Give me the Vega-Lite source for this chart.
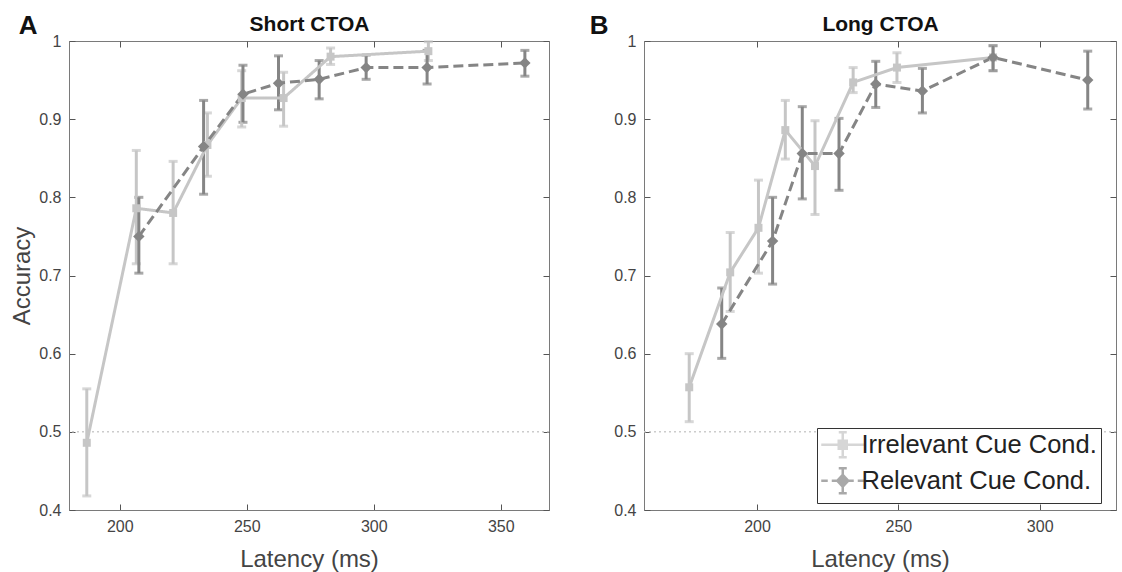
{
  "$schema": "https://vega.github.io/schema/vega-lite/v6.json",
  "padding": {"left": 10, "top": 12, "right": 0, "bottom": 0},
  "config": {
    "font": "Liberation Sans",
    "view": {"stroke": "#7a7a7a", "strokeWidth": 1},
    "axis": {"grid": false, "domainColor": "#7a7a7a", "tickColor": "#555555", "labelColor": "#444444", "titleColor": "#444444", "labelFontSize": 16, "titleFontSize": 24, "titleFontWeight": "normal", "tickSize": -6, "labelPadding": 14}
  },
  "datasets": {
    "short": [
      {"cond": "Irrelevant Cue Cond.", "lat": 187, "acc": 0.486, "lo": 0.418, "hi": 0.555},
      {"cond": "Irrelevant Cue Cond.", "lat": 206.5, "acc": 0.786, "lo": 0.715, "hi": 0.860},
      {"cond": "Irrelevant Cue Cond.", "lat": 221, "acc": 0.780, "lo": 0.715, "hi": 0.846},
      {"cond": "Irrelevant Cue Cond.", "lat": 234.5, "acc": 0.867, "lo": 0.827, "hi": 0.908},
      {"cond": "Irrelevant Cue Cond.", "lat": 248, "acc": 0.927, "lo": 0.890, "hi": 0.962},
      {"cond": "Irrelevant Cue Cond.", "lat": 264.5, "acc": 0.927, "lo": 0.891, "hi": 0.960},
      {"cond": "Irrelevant Cue Cond.", "lat": 283, "acc": 0.980, "lo": 0.970, "hi": 0.991},
      {"cond": "Irrelevant Cue Cond.", "lat": 321.5, "acc": 0.987, "lo": 0.975, "hi": 0.999},
      {"cond": "Relevant Cue Cond.", "lat": 207.5, "acc": 0.750, "lo": 0.703, "hi": 0.800},
      {"cond": "Relevant Cue Cond.", "lat": 233, "acc": 0.865, "lo": 0.804, "hi": 0.924},
      {"cond": "Relevant Cue Cond.", "lat": 248.5, "acc": 0.932, "lo": 0.896, "hi": 0.969},
      {"cond": "Relevant Cue Cond.", "lat": 262.5, "acc": 0.946, "lo": 0.912, "hi": 0.981},
      {"cond": "Relevant Cue Cond.", "lat": 278.5, "acc": 0.951, "lo": 0.926, "hi": 0.975},
      {"cond": "Relevant Cue Cond.", "lat": 297, "acc": 0.966, "lo": 0.951, "hi": 0.982},
      {"cond": "Relevant Cue Cond.", "lat": 321, "acc": 0.966, "lo": 0.945, "hi": 0.988},
      {"cond": "Relevant Cue Cond.", "lat": 359.5, "acc": 0.972, "lo": 0.955, "hi": 0.988}
    ],
    "long": [
      {"cond": "Irrelevant Cue Cond.", "lat": 176, "acc": 0.557, "lo": 0.513, "hi": 0.600},
      {"cond": "Irrelevant Cue Cond.", "lat": 190.5, "acc": 0.704, "lo": 0.654, "hi": 0.755},
      {"cond": "Irrelevant Cue Cond.", "lat": 200.5, "acc": 0.761, "lo": 0.703, "hi": 0.822},
      {"cond": "Irrelevant Cue Cond.", "lat": 210, "acc": 0.886, "lo": 0.849, "hi": 0.924},
      {"cond": "Irrelevant Cue Cond.", "lat": 220.5, "acc": 0.840, "lo": 0.778, "hi": 0.898},
      {"cond": "Irrelevant Cue Cond.", "lat": 234, "acc": 0.947, "lo": 0.934, "hi": 0.966},
      {"cond": "Irrelevant Cue Cond.", "lat": 249.5, "acc": 0.966, "lo": 0.947, "hi": 0.985},
      {"cond": "Irrelevant Cue Cond.", "lat": 283.5, "acc": 0.979, "lo": 0.962, "hi": 0.994},
      {"cond": "Relevant Cue Cond.", "lat": 187.5, "acc": 0.638, "lo": 0.594, "hi": 0.684},
      {"cond": "Relevant Cue Cond.", "lat": 205.5, "acc": 0.744, "lo": 0.689, "hi": 0.800},
      {"cond": "Relevant Cue Cond.", "lat": 216, "acc": 0.856, "lo": 0.798, "hi": 0.916},
      {"cond": "Relevant Cue Cond.", "lat": 229, "acc": 0.856, "lo": 0.809, "hi": 0.901},
      {"cond": "Relevant Cue Cond.", "lat": 242, "acc": 0.945, "lo": 0.915, "hi": 0.974},
      {"cond": "Relevant Cue Cond.", "lat": 258.5, "acc": 0.936, "lo": 0.908, "hi": 0.965},
      {"cond": "Relevant Cue Cond.", "lat": 283.5, "acc": 0.979, "lo": 0.962, "hi": 0.994},
      {"cond": "Relevant Cue Cond.", "lat": 317, "acc": 0.950, "lo": 0.913, "hi": 0.987}
    ]
  },
  "resolve": {"legend": {"color": "independent", "shape": "independent", "stroke": "independent"}, "scale": {"color": "independent", "shape": "independent", "strokeDash": "independent", "size": "independent", "stroke": "independent"}},
  "spacing": 38,
  "hconcat": [
    {
      "width": 480, "height": 469,
      "data": {"name": "short"},
      "title": {"text": "A", "anchor": "start", "frame": "bounds", "fontSize": 26, "fontWeight": "bold", "dx": 8, "dy": 29, "color": "#111111"},
      "resolve": {"axis": {"x": "independent", "y": "independent"}},
      "layer": [
        {"data": {"values": [{}]}, "mark": {"type": "rule", "color": "#cccccc", "strokeDash": [2, 3], "strokeWidth": 1.5}, "encoding": {"y": {"datum": 0.5, "type": "quantitative", "axis": null}}},
        {"mark": {"type": "errorbar", "ticks": true, "size": 9, "thickness": 3},
         "encoding": {
           "x": {"field": "lat", "type": "quantitative", "axis": null},
           "y": {"field": "lo", "type": "quantitative", "axis": null},
           "y2": {"field": "hi"},
           "color": {"field": "cond", "type": "nominal", "legend": null, "scale": {"domain": ["Irrelevant Cue Cond.", "Relevant Cue Cond."], "range": ["#c6c6c6", "#858585"]}}}},
        {"mark": {"type": "line", "strokeWidth": 3},
         "encoding": {
           "x": {"field": "lat", "type": "quantitative", "scale": {"domain": [180, 369], "nice": false, "zero": false}, "axis": {"values": [200, 250, 300, 350], "title": "Latency (ms)", "titlePadding": 13}},
           "y": {"field": "acc", "type": "quantitative", "scale": {"domain": [0.4, 1], "nice": false, "zero": false}, "axis": {"values": [0.4, 0.5, 0.6, 0.7, 0.8, 0.9, 1], "format": ".1~f", "title": "Accuracy", "titlePadding": 4}},
           "color": {"field": "cond", "type": "nominal", "legend": null},
           "strokeDash": {"field": "cond", "type": "nominal", "legend": null, "scale": {"domain": ["Irrelevant Cue Cond.", "Relevant Cue Cond."], "range": [[1, 0], [10, 5]]}}}},
        {"mark": {"type": "point", "filled": true, "opacity": 1},
         "encoding": {
           "x": {"field": "lat", "type": "quantitative", "axis": {"orient": "top", "values": [200, 250, 300, 350], "labels": false, "domain": false, "title": "Short CTOA", "titleFontSize": 21, "titleFontWeight": "bold", "titleColor": "#111111", "titlePadding": 6}},
           "y": {"field": "acc", "type": "quantitative", "axis": {"orient": "right", "values": [0.4, 0.5, 0.6, 0.7, 0.8, 0.9, 1], "labels": false, "domain": false, "title": null}},
           "color": {"field": "cond", "type": "nominal", "legend": null},
           "shape": {"field": "cond", "type": "nominal", "legend": null, "scale": {"domain": ["Irrelevant Cue Cond.", "Relevant Cue Cond."], "range": ["square", "diamond"]}},
           "size": {"field": "cond", "type": "nominal", "legend": null, "scale": {"domain": ["Irrelevant Cue Cond.", "Relevant Cue Cond."], "range": [64, 130]}}}}
      ]
    },
    {
      "width": 472, "height": 469,
      "data": {"name": "long"},
      "title": {"text": "B", "anchor": "start", "frame": "bounds", "fontSize": 26, "fontWeight": "bold", "dx": -24, "dy": 29, "color": "#111111"},
      "resolve": {"axis": {"x": "independent", "y": "independent"}},
      "layer": [
        {"data": {"values": [{}]}, "mark": {"type": "rule", "color": "#cccccc", "strokeDash": [2, 3], "strokeWidth": 1.5}, "encoding": {"y": {"datum": 0.5, "type": "quantitative", "axis": null}}},
        {"mark": {"type": "errorbar", "ticks": true, "size": 9, "thickness": 3},
         "encoding": {
           "x": {"field": "lat", "type": "quantitative", "axis": null},
           "y": {"field": "lo", "type": "quantitative", "axis": null},
           "y2": {"field": "hi"},
           "color": {"field": "cond", "type": "nominal", "scale": {"domain": ["Irrelevant Cue Cond.", "Relevant Cue Cond."], "range": ["#c6c6c6", "#858585"]}}}},
        {"transform": [{"filter": "datum.cond === 'Irrelevant Cue Cond.'"}],
         "mark": {"type": "line", "strokeWidth": 3},
         "encoding": {
           "x": {"field": "lat", "type": "quantitative", "scale": {"domain": [160, 327], "nice": false, "zero": false}, "axis": {"values": [200, 250, 300], "title": "Latency (ms)", "titlePadding": 13}},
           "y": {"field": "acc", "type": "quantitative", "scale": {"domain": [0.4, 1], "nice": false, "zero": false}, "axis": {"values": [0.4, 0.5, 0.6, 0.7, 0.8, 0.9, 1], "format": ".1~f", "title": null}},
           "color": {"field": "cond", "type": "nominal"}}},
        {"transform": [{"filter": "datum.cond === 'Relevant Cue Cond.'"}],
         "mark": {"type": "line", "strokeWidth": 3, "strokeDash": [10, 5]},
         "encoding": {
           "x": {"field": "lat", "type": "quantitative", "axis": null},
           "y": {"field": "acc", "type": "quantitative", "axis": null},
           "color": {"field": "cond", "type": "nominal"}}},
        {"transform": [{"filter": "datum.cond === 'Irrelevant Cue Cond.'"}],
         "mark": {"type": "point", "filled": true, "opacity": 1, "shape": "square", "size": 64},
         "encoding": {
           "x": {"field": "lat", "type": "quantitative", "axis": {"orient": "top", "values": [200, 250, 300], "labels": false, "domain": false, "title": "Long CTOA", "titleFontSize": 21, "titleFontWeight": "bold", "titleColor": "#111111", "titlePadding": 6}},
           "y": {"field": "acc", "type": "quantitative", "axis": {"orient": "right", "values": [0.4, 0.5, 0.6, 0.7, 0.8, 0.9, 1], "labels": false, "domain": false, "title": null}},
           "color": {"field": "cond", "type": "nominal"}}},
        {"transform": [{"filter": "datum.cond === 'Relevant Cue Cond.'"}],
         "mark": {"type": "point", "filled": true, "opacity": 1, "shape": "diamond", "size": 130},
         "encoding": {
           "x": {"field": "lat", "type": "quantitative", "axis": null},
           "y": {"field": "acc", "type": "quantitative", "axis": null},
           "color": {"field": "cond", "type": "nominal"}}},
        {"mark": {"type": "point", "filled": true, "opacity": 0},
         "encoding": {
           "x": {"field": "lat", "type": "quantitative", "axis": null},
           "y": {"field": "acc", "type": "quantitative", "axis": null},
           "color": {"field": "cond", "type": "nominal", "legend": {
             "orient": "none", "legendX": 173, "legendY": 387, "title": null,
             "fillColor": "#ffffff", "strokeColor": "#333333", "padding": 4, "rowPadding": 0,
             "labelFontSize": 25.5, "labelColor": "#222222", "labelOffset": 6, "labelLimit": 400,
             "symbolSize": 100, "symbolOffset": 9, "symbolStrokeWidth": 2.5, "symbolOpacity": 1}},
           "stroke": {"field": "cond", "type": "nominal", "scale": {"domain": ["Irrelevant Cue Cond.", "Relevant Cue Cond."], "range": ["#c6c6c6", "#858585"]}},
           "shape": {"field": "cond", "type": "nominal", "scale": {"domain": ["Irrelevant Cue Cond.", "Relevant Cue Cond."], "range": ["M-4.3,0H4.3M0,-2.5V2.5M-0.8,-2.5H0.8M-0.8,2.5H0.8M-0.8,-0.8H0.8V0.8H-0.8Z", "M-4.3,0H-3M-2.2,0H-1M1,0H2.2M3,0H4.3M0,-2.5V2.5M-0.8,-2.5H0.8M-0.8,2.5H0.8M0,-1.2L1.1,0L0,1.2L-1.1,0Z"]}}}}
      ]
    }
  ]
}
